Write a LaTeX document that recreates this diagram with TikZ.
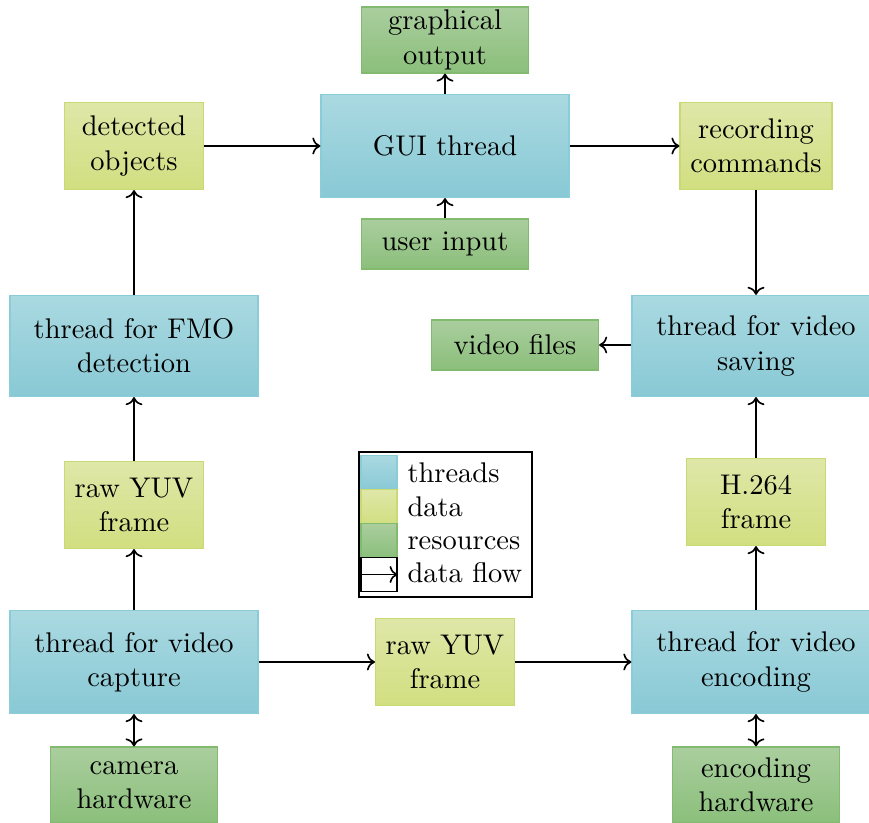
\documentclass[tikz,border=0pt]{standalone}
\usetikzlibrary{arrows.meta}
\definecolor{thrT}{HTML}{AAD9E1}
\definecolor{thrB}{HTML}{88C9D5}
\definecolor{thrD}{HTML}{8ACCD8}
\definecolor{datT}{HTML}{DFE7A8}
\definecolor{datB}{HTML}{D1DF80}
\definecolor{datD}{HTML}{C9D974}
\definecolor{resT}{HTML}{AACE9E}
\definecolor{resB}{HTML}{8BBF7B}
\definecolor{resD}{HTML}{82BA70}
\tikzset{
  x=0.362pt, y=-0.362pt,
  every node/.style={font=\fontsize{10.3pt}{12.4pt}\selectfont},
  box/.style={inner sep=0pt, align=center},
  thr/.style={box, draw=thrD, top color=thrT, bottom color=thrB, minimum width=89.8pt, minimum height=37.3pt},
  dat/.style={box, draw=datD, top color=datT, bottom color=datB, minimum width=50.3pt, minimum height=31.5pt},
  res/.style={box, draw=resD, top color=resT, bottom color=resB, minimum width=60.5pt, minimum height=18.1pt},
  flow/.style={->, line width=0.6pt},
  bflow/.style={<->, line width=0.6pt},
  lsq/.style={inner sep=0pt, minimum width=13pt, minimum height=12.4pt},
  ltxt/.style={anchor=base west, inner sep=0pt},
}
\begin{document}
\begin{tikzpicture}
\useasboundingbox (0,0) rectangle (869,823);
% top row
\node[res, minimum height=23.9pt] (gout) at (445,40) {graphical\\output};
\node[thr] (gui) at (445,146) {GUI thread};
\node[res] (uin) at (445,244) {user input};
\node[dat] (det) at (134,146) {detected\\objects};
\node[dat, minimum width=55pt] (rec) at (756,146) {recording\\commands};
% middle
\node[thr, minimum height=36.6pt] (fmo) at (134,346) {thread for FMO\\detection};
\node[res] (vf) at (515,345) {video files};
\node[thr, minimum height=36.6pt] (sav) at (756,346) {thread for video\\saving};
\node[dat] (yuvl) at (134,505) {raw YUV\\frame};
\node[dat] (h264) at (756,502) {H.264\\frame};
% bottom
\node[thr] (cap) at (134,662) {thread for video\\capture};
\node[dat] (yuvm) at (445,662) {raw YUV\\frame};
\node[thr] (enc) at (756,662) {thread for video\\encoding};
\node[res, minimum height=27.5pt] (cam) at (134,785) {camera\\hardware};
\node[res, minimum height=27.5pt] (ehw) at (756,785) {encoding\\hardware};
% connectors
\draw[flow] (cap) -- (yuvl);
\draw[flow] (yuvl) -- (fmo);
\draw[flow] (fmo) -- (det);
\draw[flow] (det) -- (gui);
\draw[flow] (gui) -- (gout);
\draw[flow] (uin) -- (gui);
\draw[flow] (gui) -- (rec);
\draw[flow] (rec) -- (sav);
\draw[flow] (sav.west |- vf.east) -- (vf);
\draw[flow] (enc) -- (h264);
\draw[flow] (h264) -- (sav);
\draw[flow] (cap.east |- yuvm) -- (yuvm);
\draw[flow] (yuvm) -- (enc);
\draw[bflow] (cap) -- (cam);
\draw[bflow] (enc) -- (ehw);
% legend
\node[draw, line width=0.6pt, inner sep=0pt, minimum width=62.6pt, minimum height=52.5pt] (leg) at (445.5,524.5) {};
\node[lsq, draw=thrD, top color=thrT, bottom color=thrB] (lthr) at (379,472.5) {};
\node[lsq, draw=datD, top color=datT, bottom color=datB] (ldat) at (379,507) {};
\node[lsq, draw=resD, top color=resT, bottom color=resB] (lres) at (379,540.5) {};
\node[lsq, draw=black, line width=0.5pt] (lflo) at (379,574.5) {};
\node[ltxt] (tthr) at (407,482) {threads};
\node[ltxt] (tdat) at (407,516) {data};
\node[ltxt] (tres) at (407,549) {resources};
\node[ltxt] (tflo) at (407,582) {data flow};
\draw[flow] (lflo.west) -- (lflo.east);
\end{tikzpicture}
\end{document}
